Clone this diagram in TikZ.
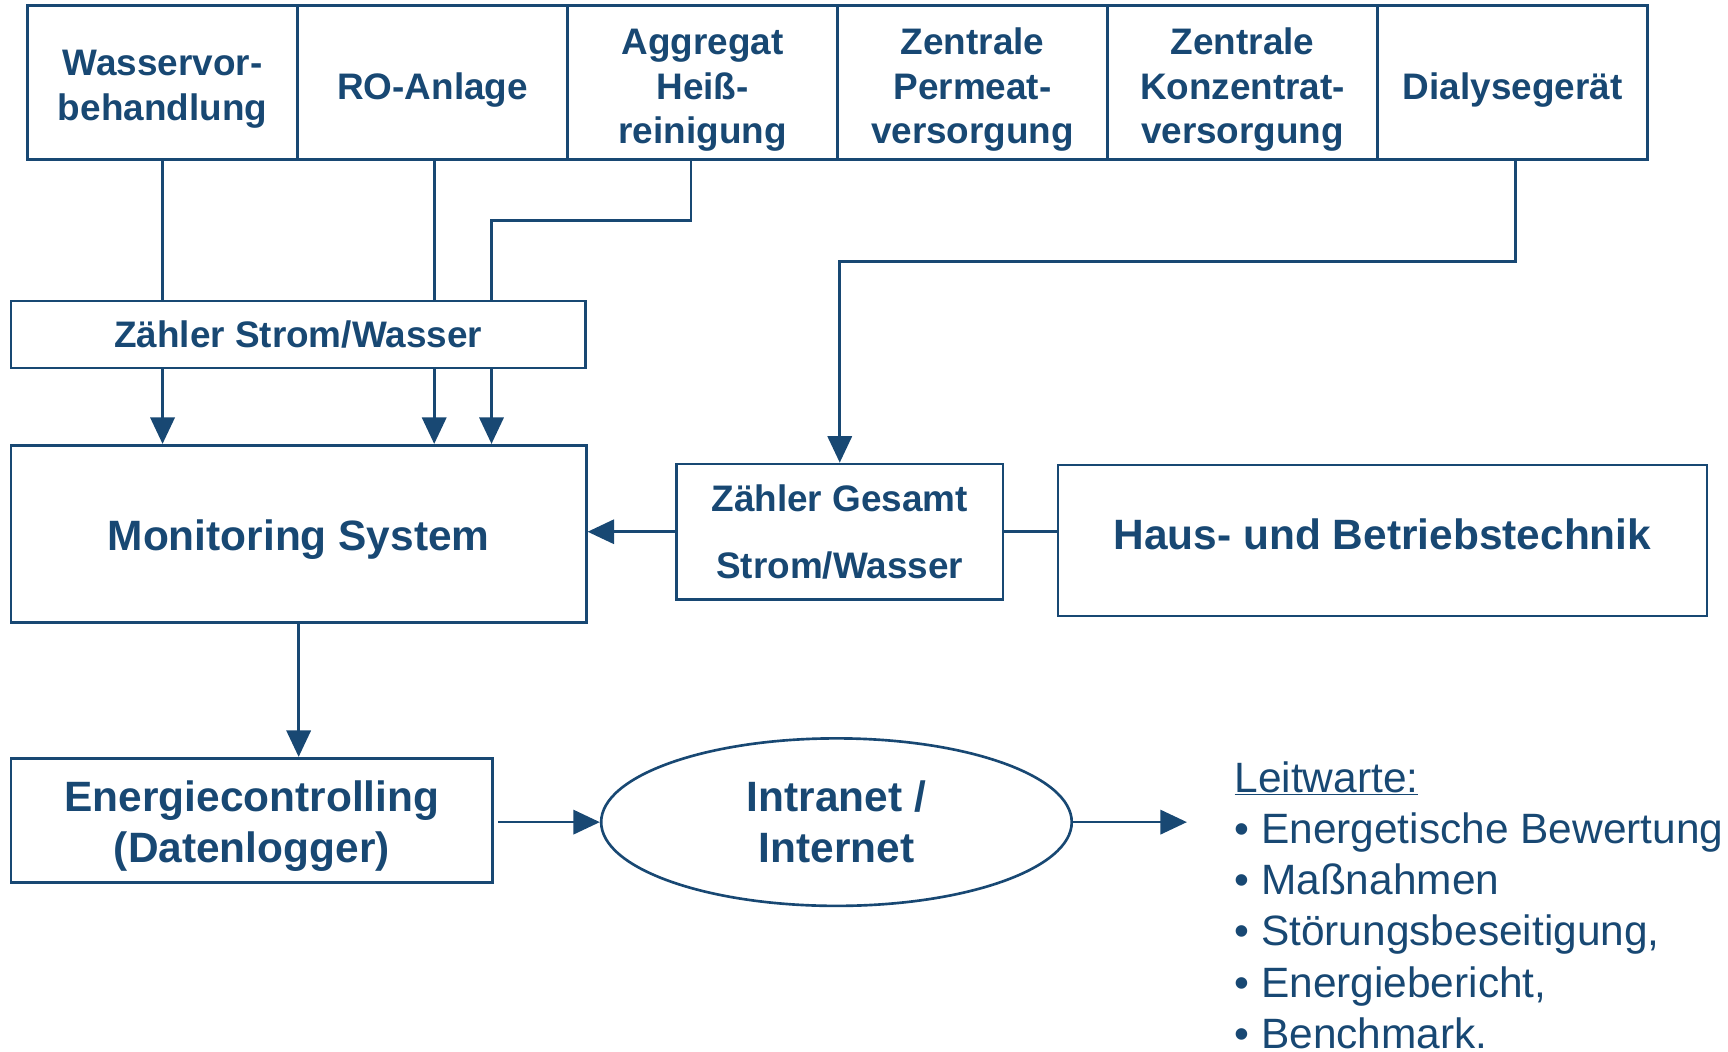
\documentclass[tikz,border=0pt]{standalone}
\usepackage{fontspec}
\setmainfont{Liberation Sans}
\usetikzlibrary{arrows.meta,shapes.geometric}
\definecolor{db}{RGB}{24,72,115}
\newcommand{\dn}[1]{\rule{0pt}{#1}}
\begin{document}
\begin{tikzpicture}[x=1pt,y=-1pt,
  conn/.style={draw=db,line width=2.4pt},
  arr/.style={conn,-{Triangle[length=24pt,width=22pt]}},
  boxbase/.style={draw=db,line width=2.4pt,inner sep=0pt,align=center,text=db},
  raise/.style={execute at end node={\rule[-#1]{0pt}{0pt}}},
  topbox/.style={boxbase,minimum width=245pt,minimum height=140pt,
    font={\fontsize{33.5}{40.5}\selectfont\bfseries}},
  smallbox/.style={boxbase,font={\fontsize{33.5}{40.5}\selectfont\bfseries}},
  bigbox/.style={boxbase,font={\fontsize{38.5}{46.6}\selectfont\bfseries}},
  listtext/.style={inner sep=0pt,align=left,text=db,font={\fontsize{38.5}{46.4}\selectfont}}
]
\useasboundingbox (0,0) rectangle (1568,954);

% top row
\node[topbox] (wv) at (147.5,75) {\dn{35pt}Wasservor-\\behandlung};
\node[topbox] (ro) at (392.5,75) {\dn{37pt}RO-Anlage};
\node[topbox] (ag) at (637.5,75) {\dn{37pt}Aggregat\\Heiß-\\reinigung};
\node[topbox] (zp) at (882.5,75) {\dn{37pt}Zentrale\\Permeat-\\versorgung};
\node[topbox] (zk) at (1127.5,75) {\dn{37pt}Zentrale\\Konzentrat-\\versorgung};
\node[topbox] (dg) at (1372.5,75) {\dn{37pt}Dialysegerät};

% meters and systems
\node[smallbox,minimum width=521pt,minimum height=61pt] (zs) at (270.5,303.5) {Zähler Strom/Wasser};
\node[bigbox,minimum width=522pt,minimum height=161pt] (mon) at (271,484.5) {\dn{38pt}Monitoring System};
\node[smallbox,minimum width=296pt,minimum height=123pt,
  font={\fontsize{33.5}{61}\selectfont\bfseries}] (zg) at (762,482.5) {Zähler Gesamt\\Strom/Wasser};
\node[bigbox,minimum width=589pt,minimum height=137pt,raise=12pt] (haus) at (1254.5,490.5) {Haus- und Betriebstechnik};
\node[bigbox,minimum width=437pt,minimum height=113pt] (en) at (228.5,744.5) {\dn{38pt}Energiecontrolling\\(Datenlogger)};
\node[bigbox,ellipse,minimum width=427pt,minimum height=152pt] (el) at (759,746) {Intranet /\\Internet};

\node[listtext,anchor=north west] (lw) at (1120,691)
  {\underline{Leitwarte:}\\
   • Energetische Bewertung\\
   • Maßnahmen\\
   • Störungsbeseitigung,\\
   • Energiebericht,\\
   • Benchmark.};

% connector helper points
\coordinate (ag1) at (627,200);
\coordinate (ag2) at (446,200);
\coordinate (dg1) at (1375,237);
\coordinate (out) at (1077,746);

% Wasservorbehandlung
\draw[conn] (wv.south) -- (wv.south |- zs.north);
\draw[arr] (wv.south |- zs.south) -- (wv.south |- mon.north);
% RO-Anlage
\draw[conn] ([xshift=1.5pt]ro.south) -- ([xshift=1.5pt]ro.south |- zs.north);
\draw[arr] ([xshift=1.5pt]ro.south |- zs.south) -- ([xshift=1.5pt]ro.south |- mon.north);
% Aggregat
\draw[conn] (ag1 |- ag.south) -- (ag1) -- (ag2) -- (ag2 |- zs.north);
\draw[arr] (ag2 |- zs.south) -- (ag2 |- mon.north);
% Dialysegeraet
\draw[arr] (dg1 |- dg.south) -- (dg1) -- (dg1 -| zg.north) -- (zg.north);
% Zaehler Gesamt
\draw[arr] (zg.west) -- (zg.west -| mon.east);
\draw[conn] (zg.east) -- (zg.east -| haus.west);
% lower chain
\draw[arr] (mon.south) -- (mon.south |- en.north);
\draw[arr] ([xshift=4pt]en.east |- el.west) -- (el.west);
\draw[arr] (el.east) -- (out);
\end{tikzpicture}
\end{document}
